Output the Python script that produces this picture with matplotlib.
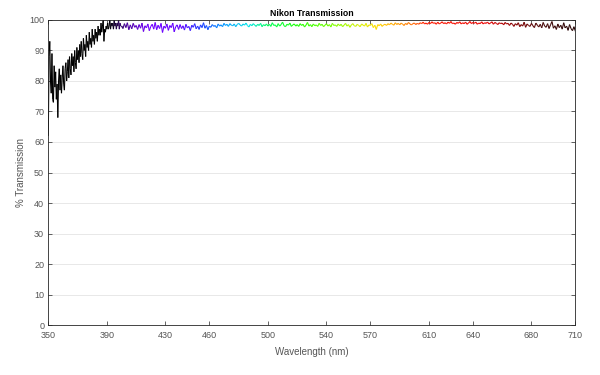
import numpy as np
import matplotlib
matplotlib.use("Agg")
import matplotlib.pyplot as plt
from matplotlib.collections import LineCollection
from matplotlib.colors import LinearSegmentedColormap, Normalize

# ---- data ----
uv_wavelength = np.arange(350.0, 400.01, 0.5)
uv_transmission = [
    62, 88, 93, 80, 76, 89, 74, 73, 85, 78,
    83, 74, 79, 68, 80, 84, 77, 82, 76, 81,
    85, 79, 77, 84, 86, 80, 83, 87, 81, 88,
    84, 82, 89, 85, 88, 83, 90, 86, 84, 91,
    87, 90, 86, 92, 88, 93, 89, 87, 94, 90,
    92, 88, 95, 91, 93, 90, 96, 92, 94, 91,
    97, 93, 95, 92, 97, 94, 96, 93, 98, 95,
    97, 95, 99, 96, 98, 100, 93, 97, 96, 98,
    97, 99, 97, 98, 100, 97, 99, 98, 99, 97,
    100, 98, 99, 97, 99, 98, 100, 97, 99, 98,
    98,
]
vis_wavelength = np.arange(401, 711, 1.0)
vis_transmission = [
    97.2, 98.8, 97.5, 99.1, 96.8, 98.4, 97.1, 98.9, 97.6, 98.2,
    96.9, 98.5, 97.3, 99.0, 96.2, 98.1, 97.4, 98.7, 96.5, 97.9,
    98.6, 97.0, 99.2, 96.8, 98.3, 97.2, 98.9, 95.9, 98.0, 97.3,
    98.7, 96.6, 98.2, 97.5, 99.0, 96.1, 97.8, 98.4, 96.9, 98.5,
    97.2, 98.1, 96.7, 98.6, 97.4, 97.9, 96.5, 98.3, 97.6, 98.8,
    97.1, 98.0, 96.9, 98.4, 97.5, 99.1, 97.3, 98.2, 96.8, 98.0,
    97.6, 98.5, 97.9, 98.2, 97.4, 98.7, 98.0, 98.4, 97.8, 98.9,
    98.2, 98.6, 97.9, 98.8, 98.3, 98.1, 98.7, 97.8, 98.5, 98.9,
    98.4, 98.0, 98.7, 98.3, 99.0, 98.2, 97.7, 98.6, 98.1, 98.8,
    98.3, 97.9, 98.6, 98.2, 98.9, 97.8, 98.5, 98.1, 98.7, 98.0,
    98.6, 97.9, 99.1, 98.2, 98.4, 97.7, 98.8, 98.0, 98.5, 99.3,
    98.1, 97.8, 98.6, 98.3, 99.0, 97.9, 98.4, 98.7, 98.0, 98.5,
    97.9, 98.8, 98.2, 98.6, 97.7, 98.3, 99.2, 98.0, 98.5, 97.8,
    98.7, 98.1, 98.4, 97.9, 98.9, 98.2, 98.6, 97.8, 98.3, 98.8,
    98.0, 98.5, 97.7, 98.9, 98.2, 98.4, 97.9, 98.7, 98.1, 98.6,
    97.8, 98.3, 98.9, 98.0, 98.5, 97.6, 98.4, 98.8, 98.1, 97.9,
    98.6, 98.2, 97.8, 98.7, 98.3, 98.0, 98.9, 97.7, 98.4, 98.2,
    98.8, 97.5, 98.3, 96.9, 98.5, 98.1, 98.7, 97.9, 98.4, 98.6,
    98.2, 98.8, 98.4, 99.0, 98.6, 98.3, 99.1, 98.5, 98.9, 98.4,
    99.0, 98.6, 98.2, 98.9, 98.5, 99.2, 98.7, 98.4, 98.8, 99.0,
    98.5, 98.9, 98.6, 99.1, 98.8, 99.3, 98.7, 99.0, 98.6, 99.2,
    98.8, 99.4, 98.9, 99.1, 98.6, 99.3, 98.7, 99.0, 99.4, 98.8,
    99.1, 98.7, 99.3, 98.9, 99.5, 98.8, 99.0, 98.6, 99.2, 98.9,
    99.4, 98.7, 99.1, 98.8, 99.3, 98.6, 99.0, 99.5, 98.8, 99.2,
    98.9, 99.3, 98.6, 99.0, 98.8, 99.4, 98.7, 99.1, 98.9, 99.3,
    98.7, 99.0, 99.4, 98.6, 99.2, 98.9, 98.5, 99.1, 98.8, 99.0,
    98.4, 99.2, 98.7, 98.9, 98.2, 99.0, 98.6, 97.9, 98.8, 98.3,
    99.1, 97.8, 98.5, 98.0, 99.3, 97.6, 98.7, 98.2, 97.9, 98.9,
    98.1, 97.5, 99.0, 98.3, 97.7, 98.6, 97.4, 99.2, 98.0, 97.6,
    98.8, 97.2, 98.4, 99.5, 97.3, 98.1, 96.9, 98.7, 97.5, 98.3,
    97.0, 99.1, 97.4, 98.0, 96.6, 98.5, 97.2, 96.5, 97.8, 96.3,
]
x_ticks = [350, 390, 430, 460, 500, 540, 570, 610, 640, 680, 710]
y_ticks = list(range(0, 101, 10))

wavelength = np.concatenate([uv_wavelength, vis_wavelength])
transmission = np.concatenate([uv_transmission, vis_transmission])

# ---- spectral colour map (style) ----
stops = [
    (350, (0, 0, 0)), (391, (0, 0, 0)), (403, (0.28, 0.0, 0.6)),
    (418, (0.45, 0.0, 1.0)), (440, (0.38, 0.0, 1.0)), (455, (0.1, 0.25, 1.0)),
    (470, (0.0, 0.6, 1.0)), (487, (0.0, 0.9, 0.9)), (500, (0.0, 1.0, 0.35)),
    (520, (0.1, 1.0, 0.0)), (545, (0.5, 1.0, 0.0)), (563, (0.85, 0.95, 0.0)),
    (575, (1.0, 0.85, 0.0)), (590, (1.0, 0.6, 0.0)), (600, (1.0, 0.4, 0.0)),
    (608, (1.0, 0.1, 0.0)), (650, (0.92, 0.0, 0.0)), (668, (0.55, 0.0, 0.0)),
    (688, (0.3, 0.05, 0.05)), (710, (0.15, 0.02, 0.02)),
]
lo, hi = 350, 710
cmap = LinearSegmentedColormap.from_list(
    "spec", [((w - lo) / (hi - lo), c) for w, c in stops])

fig = plt.figure(figsize=(6.0, 3.75), dpi=100)
ax = fig.add_axes([0.0805, 0.1333, 0.8785, 0.8134])

pts = np.column_stack([wavelength, transmission]).reshape(-1, 1, 2)
segs = np.concatenate([pts[:-1], pts[1:]], axis=1)
mid = 0.5 * (wavelength[:-1] + wavelength[1:])
lc = LineCollection(segs, cmap=cmap, norm=Normalize(lo, hi), linewidths=0.8)
lc.set_array(mid)
ax.add_collection(lc)

ax.set_xlim(350, 710)
ax.set_ylim(0, 100)
ax.set_xticks(x_ticks)
ax.set_yticks(y_ticks)
ax.yaxis.grid(True, color="#e4e4e4", linewidth=0.6)
ax.set_axisbelow(True)

axc = "#262626"
lblc = "#555555"
for s in ax.spines.values():
    s.set_color(axc)
    s.set_linewidth(0.6)
ax.tick_params(direction="in", length=3, width=0.5, colors=axc,
               labelcolor=lblc, labelsize=6.5, top=True, right=True)
ax.tick_params(axis="x", pad=4)
ax.tick_params(axis="y", pad=3)
for lab in ax.get_xticklabels() + ax.get_yticklabels():
    lab.set_fontfamily("Liberation Sans")

ax.set_xlabel("Wavelength (nm)", fontsize=7, color=lblc,
              fontfamily="Liberation Sans", labelpad=5)
ax.set_ylabel("% Transmission", fontsize=7, color=lblc,
              fontfamily="Liberation Sans", labelpad=2)
ax.set_title("Nikon Transmission", fontsize=6.3, fontweight="bold",
             color="black", fontfamily="Liberation Sans", pad=3)

fig.savefig("out.png", dpi=100)
